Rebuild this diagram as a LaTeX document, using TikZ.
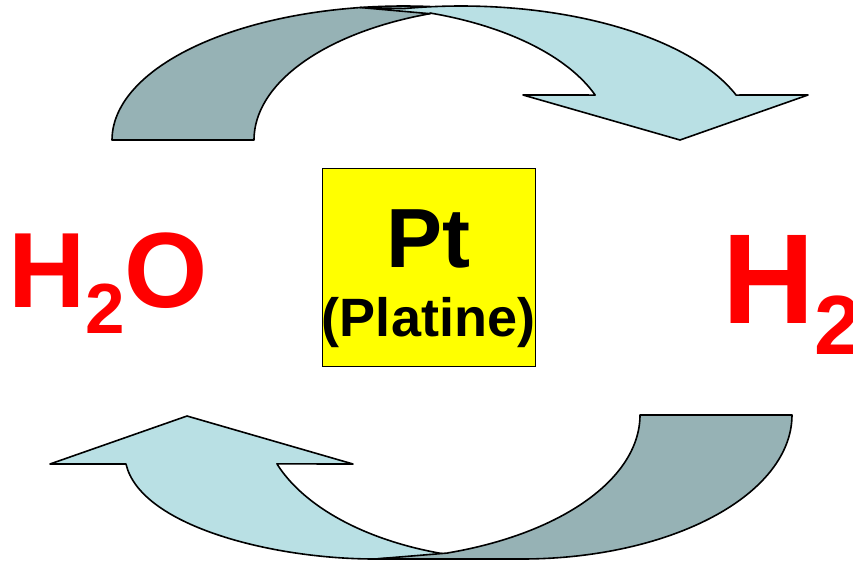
\documentclass[tikz,border=0pt]{standalone}
\usepackage{fontspec}
\setmainfont{Liberation Sans}
\usepackage{xcolor}
\usepackage{tikz}
\usetikzlibrary{positioning}
\definecolor{cback} {RGB}{150,178,181}
\definecolor{cfront}{RGB}{185,224,228}
\definecolor{cred}  {RGB}{255,0,0}
\definecolor{cyel}  {RGB}{255,255,0}
\tikzset{
  back/.style={fill=cback, draw=black, line width=1.6pt, line join=round},
  front/.style={fill=cfront, draw=black, line width=1.6pt, line join=round},
  chem/.style={text=cred, inner sep=0pt, anchor=base west},
  metal/.style={text=black, inner sep=0pt, anchor=base},
}

\begin{document}
\begin{tikzpicture}[x=1pt, y=-1pt]
  \useasboundingbox (0,0) rectangle (853,565);

  % ── Upper arrow (H2O -> H2) ────────────────────────────────────────────────
  \draw[back] plot[domain=180:85, samples=60] ({404+292*cos(\x)}, {140-134*sin(\x)})
      -- (430,13.7)
      -- plot[domain=109.5:180, samples=60] ({518+264*cos(\x)}, {140-134*sin(\x)})
      -- cycle;
  \draw[front] (430,13.7) -- (360,7.5)
      -- plot[domain=101.3:19.6, samples=60] ({461+292*cos(\x)}, {140-134*sin(\x)})
      -- (808,95) -- (680,140) -- (523,95)
      -- plot[domain=19.6:71.4, samples=60] ({345.5+265*cos(\x)}, {140-134*sin(\x)})
      -- cycle;

  % ── Lower arrow (back to H2O) ──────────────────────────────────────────────
  \draw[front] (187,416) -- (353,464)
      -- plot[domain=160.3:105.7, samples=60] ({517+255*cos(\x)}, {415+145*sin(\x)})
      -- (375,559) .. controls (270,559) and (140,525) .. (126,464)
      -- (50,464) -- cycle;
  \draw[back] (640,415) -- (792,415)
      -- plot[domain=0:90, samples=60] ({522+270*cos(\x)}, {415+144*sin(\x)})
      -- (375,559) -- (448,553)
      -- plot[domain=72:0, samples=60] ({362+278*cos(\x)}, {415+145*sin(\x)})
      -- cycle;

  % ── Catalyst box ───────────────────────────────────────────────────────────
  \node[draw=black, line width=1pt, fill=cyel, inner sep=0pt,
        minimum width=213pt, minimum height=198pt] at (428.5,267) (pt) {};
  \node[metal, font=\bfseries\fontsize{84}{84}\selectfont] at (428.5,267) (sym) {Pt};
  \node[metal, font=\bfseries\fontsize{54}{54}\selectfont] at (428.5,336) (name)
      {(Platine)};

  % ── Molecules ──────────────────────────────────────────────────────────────
  \node[chem, font=\bfseries\fontsize{107}{107}\selectfont] at (8,307) (water)
      {H\raisebox{-26pt}{\fontsize{71}{71}\selectfont 2}O};
  \node[chem, font=\bfseries\fontsize{128}{128}\selectfont] at (722,323) (hydro)
      {H\raisebox{-31pt}{\fontsize{84}{84}\selectfont 2}};
\end{tikzpicture}
\end{document}
